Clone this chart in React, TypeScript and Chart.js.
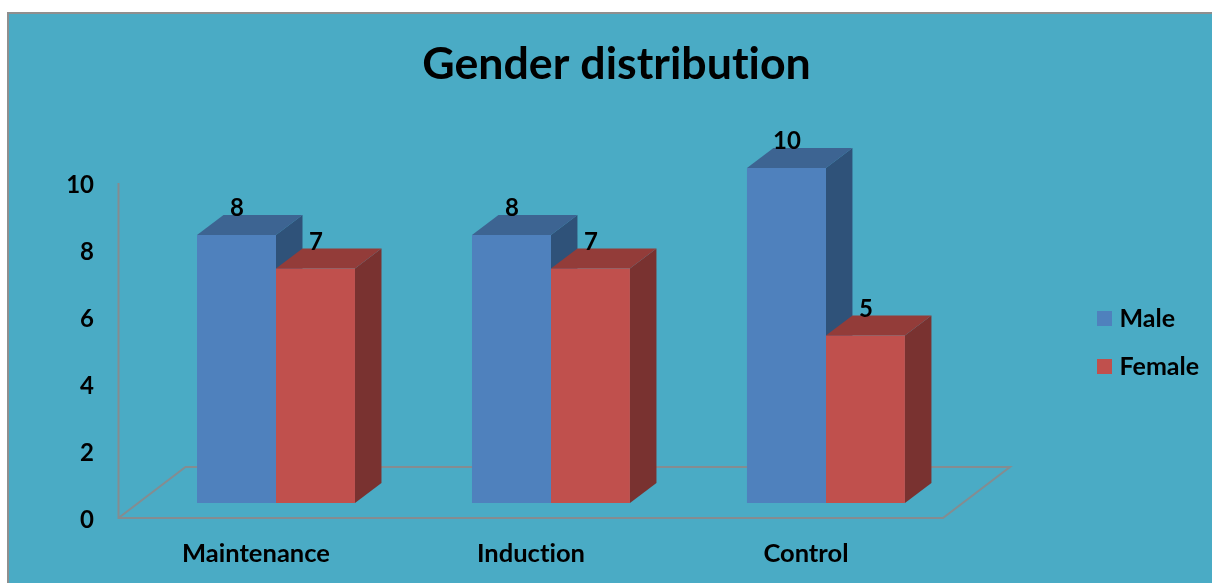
import React, { useEffect, useRef } from "react";
import { Chart, registerables } from "chart.js";

Chart.register(...registerables);

const categories = ["Maintenance", "Induction", "Control"];
const maleValues = [8, 8, 10];
const femaleValues = [7, 7, 5];
const yTicks = [0, 2, 4, 6, 8, 10];

const FONT = "Lato";
const DEPTH_X = 26.5;
const DEPTH_Y = 20;
const INK = "#000000";
const LINE = "#858C90";
const PANEL = "#4AABC5";

const faceColors = [
  { top: "#3D6492", side: "#2F5279" },
  { top: "#933C39", side: "#793230" },
];

function polygon(ctx: CanvasRenderingContext2D, pts: number[][], fill: string) {
  ctx.fillStyle = fill;
  ctx.beginPath();
  pts.forEach(([x, y], i) => (i ? ctx.lineTo(x, y) : ctx.moveTo(x, y)));
  ctx.closePath();
  ctx.fill();
}

function swatch(color: string) {
  const c = document.createElement("canvas");
  c.width = 15;
  c.height = 15;
  const g = c.getContext("2d")!;
  g.fillStyle = color;
  g.fillRect(0, 0, 15, 15);
  return c;
}

// Panel background with its grey top and left edges.
const panelPlugin = {
  id: "panel",
  beforeDraw(chart: any) {
    const { ctx, width, height } = chart;
    // A tiny letter spacing keeps Lato from joining "ti" into a ligature.
    ctx.letterSpacing = "0.01px";
    ctx.save();
    ctx.fillStyle = "#ffffff";
    ctx.fillRect(0, 0, width, height);
    ctx.fillStyle = "#8F8F8F";
    ctx.fillRect(7, 12, width - 7, height - 12);
    ctx.fillStyle = PANEL;
    ctx.fillRect(9, 14, width - 9, height - 14);
    ctx.restore();
  },
};

// Floor parallelogram, value axis line and the extruded faces of each bar.
const depthPlugin = {
  id: "depth",
  beforeDatasetsDraw(chart: any) {
    const { ctx, chartArea } = chart;
    const left = chartArea.left - 20;
    const right = chartArea.right - 20.5;
    const front = chartArea.bottom + 15;
    const back = front - 51;
    const top = chartArea.top + 15;
    ctx.save();
    ctx.strokeStyle = LINE;
    ctx.lineWidth = 2;
    ctx.beginPath();
    ctx.moveTo(left, top);
    ctx.lineTo(left, front);
    ctx.lineTo(right, front);
    ctx.lineTo(right + 67, back);
    ctx.lineTo(left + 67, back);
    ctx.lineTo(left, front);
    ctx.stroke();

    chart.data.datasets.forEach((_: any, di: number) => {
      chart.getDatasetMeta(di).data.forEach((bar: any) => {
        const { x, y, base, width } = bar.getProps(["x", "y", "base", "width"], true);
        const l = x - width / 2;
        const r = x + width / 2;
        polygon(ctx, [[r, y], [r + DEPTH_X, y - DEPTH_Y], [r + DEPTH_X, base - DEPTH_Y], [r, base]], faceColors[di].side);
        polygon(ctx, [[l, y], [l + DEPTH_X, y - DEPTH_Y], [r + DEPTH_X, y - DEPTH_Y], [r, y]], faceColors[di].top);
      });
    });
    ctx.restore();
  },
  afterDatasetsDraw(chart: any) {
    const { ctx } = chart;
    ctx.save();
    ctx.fillStyle = INK;
    ctx.font = `700 24px ${FONT}`;
    ctx.textAlign = "center";
    ctx.textBaseline = "middle";
    chart.data.datasets.forEach((ds: any, di: number) => {
      chart.getDatasetMeta(di).data.forEach((bar: any, i: number) => {
        const { x, y } = bar.getProps(["x", "y"], true);
        ctx.fillText(String(ds.data[i]), x + 0.5, y - 26.5);
      });
    });
    ctx.restore();
  },
};

// The key sits in the free strip right of the floor; the title centres over the panel.
const boxPlacement = {
  id: "boxPlacement",
  afterLayout(chart: any) {
    const legend = chart.legend;
    legend.left = 1079;
    legend.right = 1212;
    legend.top = 283;
    legend.bottom = 583;
    chart.titleBlock.left = 21;
    chart.titleBlock.right = 1212;
  },
};

export default function App() {
  const ref = useRef<HTMLCanvasElement>(null);

  useEffect(() => {
    const chart = new Chart(ref.current!, {
      type: "bar",
      data: {
        labels: categories,
        datasets: [
          { label: "Male", data: maleValues, backgroundColor: "#4F81BD", categoryPercentage: 0.5745, barPercentage: 1 },
          { label: "Female", data: femaleValues, backgroundColor: "#C0504D", categoryPercentage: 0.5745, barPercentage: 1 },
        ],
      },
      options: {
        animation: false,
        responsive: false,
        layout: { padding: { left: 0, right: 118.5, top: 0, bottom: 0 } },
        plugins: {
          tooltip: { enabled: false },
          title: {
            display: true,
            text: "Gender distribution",
            color: INK,
            font: { family: FONT, weight: "bold", size: 44.7 },
            padding: { top: 38, bottom: 76.3 },
          },
          legend: {
            position: "right",
            align: "start",
            labels: {
              color: INK,
              font: { family: FONT, weight: "bold", size: 25 },
              usePointStyle: true,
              pointStyleWidth: 5,
              boxHeight: 15,
              padding: 23,
              generateLabels(c: any) {
                return c.data.datasets.map((ds: any, i: number) => ({
                  text: ds.label,
                  fontColor: INK,
                  fillStyle: ds.backgroundColor,
                  strokeStyle: ds.backgroundColor,
                  lineWidth: 0,
                  hidden: false,
                  datasetIndex: i,
                  pointStyle: swatch(ds.backgroundColor),
                }));
              },
            },
          },
        },
        scales: {
          x: {
            grid: { display: false },
            border: { display: false },
            ticks: {
              color: INK,
              font: { family: FONT, weight: "bold", size: 25.5 },
              labelOffset: -20,
              padding: 27.5,
              maxRotation: 0,
            },
            afterFit(scale: any) {
              scale.height = 80;
            },
          },
          y: {
            min: 0,
            max: 10,
            afterBuildTicks(scale: any) {
              scale.ticks = yTicks.map((value) => ({ value }));
            },
            grid: { display: false },
            border: { display: false },
            ticks: {
              color: INK,
              font: { family: FONT, weight: "bold", size: 24 },
              labelOffset: 17.5,
              padding: 36.5,
            },
            afterFit(scale: any) {
              scale.width = 138.5;
            },
          },
        },
      },
      plugins: [panelPlugin, depthPlugin, boxPlacement],
    } as any);
    return () => chart.destroy();
  }, []);

  return (
    <canvas
      ref={ref}
      width={1212}
      height={583}
      style={{ position: "fixed", left: 0, top: 0, display: "block" }}
    />
  );
}
